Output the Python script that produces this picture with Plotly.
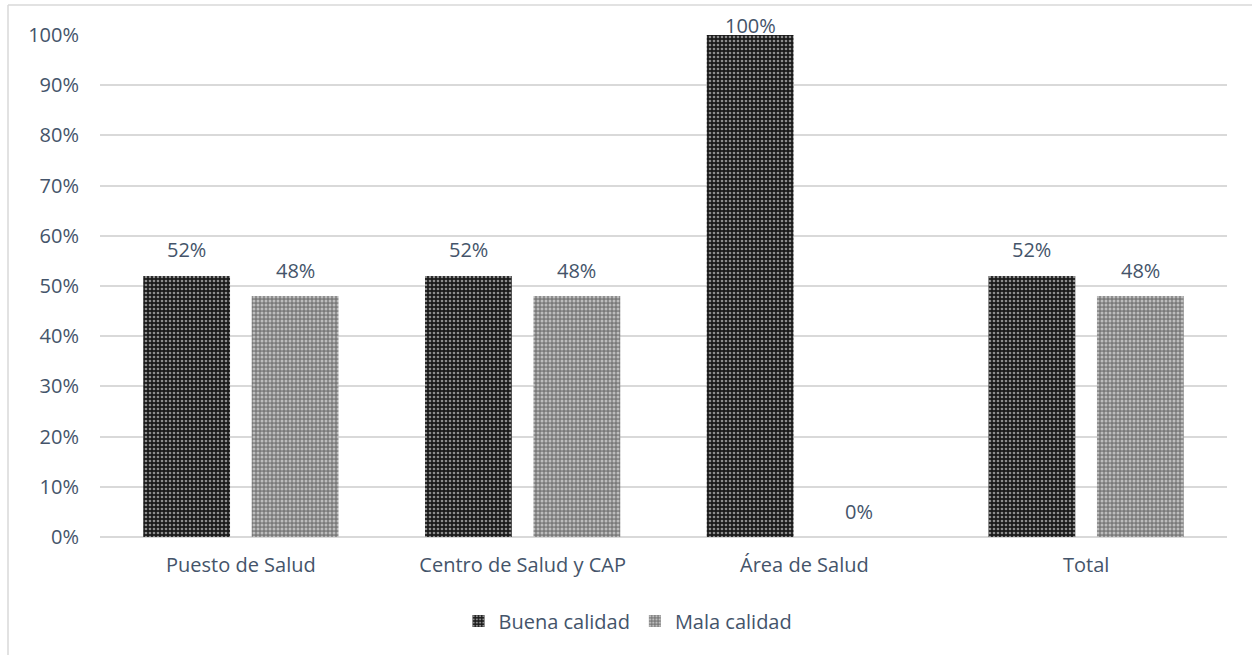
import plotly.graph_objects as go

categorias = ["Puesto de Salud", "Centro de Salud y CAP", "Área de Salud", "Total"]
buena_calidad = [52, 52, 100, 52]
mala_calidad = [48, 48, 0, 48]
ticks_y = [0, 10, 20, 30, 40, 50, 60, 70, 80, 90, 100]

TEXT = "#44546A"
GRID = "#D9D9D9"
FONT = "'Open Sans', Lato, sans-serif"
FSIZE = 20

# plot area in pixels (used to place the outer frame in paper units)
L, R, T, B = 100, 25, 35, 118
W, H = 1252, 655
pw, ph = W - L - R, H - T - B

BARGAP = 0.23
BARGROUPGAP = 0.2


def px_to_paper_x(px):
    return (px - L) / pw


def px_to_paper_y(py):
    return (H - B - py) / ph


fig = go.Figure()
fig.add_trace(go.Bar(
    name="Buena calidad", x=categorias, y=[v / 100 for v in buena_calidad],
    textposition="none",
    marker=dict(color="#1A1A1A", line=dict(width=0),
                pattern=dict(shape=".", bgcolor="#1A1A1A", fgcolor="white",
                             size=4, solidity=0.35, fillmode="overlay")),
))
fig.add_trace(go.Bar(
    name="Mala calidad", x=categorias, y=[v / 100 for v in mala_calidad],
    textposition="none",
    marker=dict(color="#7A7A7A", line=dict(width=0),
                pattern=dict(shape=".", bgcolor="#7A7A7A", fgcolor="white",
                             size=4, solidity=0.45, fillmode="overlay")),
))

# value labels above each bar (kept inside the chart area near the top)
slot = (1 - BARGAP) / 2
for series, off in ((buena_calidad, -slot / 2), (mala_calidad, slot / 2)):
    for i, v in enumerate(series):
        bar_top_px = (H - B) - (v / 100) * ph
        label_px = max(bar_top_px - 26, 25)
        fig.add_annotation(
            x=i + off, y=v / 100, xref="x", yref="y",
            text=f"{v}%", showarrow=False,
            yshift=bar_top_px - label_px,
            font=dict(family=FONT, size=FSIZE, color=TEXT),
        )

# outer chart frame (left and top edges visible)
fig.add_shape(type="line", xref="paper", yref="paper",
              x0=px_to_paper_x(8), x1=px_to_paper_x(8),
              y0=px_to_paper_y(5), y1=px_to_paper_y(700),
              line=dict(color=GRID, width=1.5))
fig.add_shape(type="line", xref="paper", yref="paper",
              x0=px_to_paper_x(8), x1=px_to_paper_x(1300),
              y0=px_to_paper_y(5), y1=px_to_paper_y(5),
              line=dict(color=GRID, width=1.5))

fig.update_layout(
    width=W, height=H,
    margin=dict(l=L, r=R, t=T, b=B),
    paper_bgcolor="white", plot_bgcolor="white",
    font=dict(family=FONT, color=TEXT, size=FSIZE),
    barmode="group", bargap=BARGAP, bargroupgap=BARGROUPGAP,
    showlegend=True,
    legend=dict(orientation="h", x=px_to_paper_x(628), xanchor="center",
                y=px_to_paper_y(621), yanchor="middle",
                font=dict(size=FSIZE, color=TEXT), itemwidth=30,
                traceorder="normal"),
    xaxis=dict(showgrid=False, showline=False, ticks="",
               ticklabelstandoff=14, tickfont=dict(size=FSIZE, color=TEXT)),
    yaxis=dict(range=[0, 1], tickvals=[v / 100 for v in ticks_y],
               ticktext=[f"{v}%" for v in ticks_y],
               showgrid=True, gridcolor=GRID, gridwidth=1.5,
               zeroline=True, zerolinecolor=GRID, zerolinewidth=1.5,
               showline=False, ticks="", ticklabelstandoff=20,
               tickfont=dict(size=FSIZE, color=TEXT)),
)

fig.write_html("out.html")
